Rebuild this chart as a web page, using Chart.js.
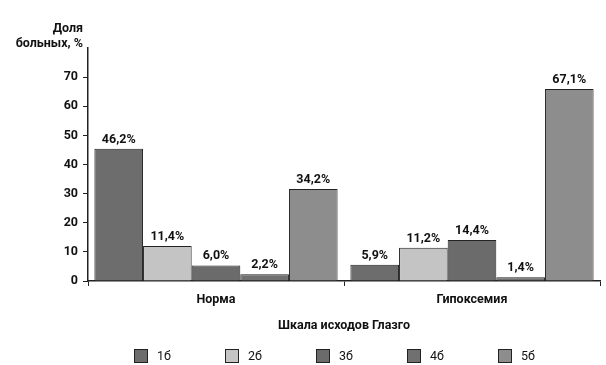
<!DOCTYPE html>
<html>
<head>
<meta charset="utf-8">
<script src="https://cdn.jsdelivr.net/npm/chart.js@4.4.1/dist/chart.umd.min.js"></script>
<style>
  html, body { margin: 0; padding: 0; background: #ffffff; }
  #wrap { width: 606px; height: 365px; }
</style>
</head>
<body>
<div id="wrap"><canvas id="c" width="606" height="365"></canvas></div>
<script>
// ---- data ----
const categories = ['Норма', 'Гипоксемия'];
const seriesNames = ['1б', '2б', '3б', '4б', '5б'];
// bar heights as drawn in the picture (%)
const s1 = [45.4, 5.6];
const s2 = [12.0, 11.4];
const s3 = [5.3, 14.1];
const s4 = [2.3, 1.3];
const s5 = [31.6, 65.9];
// printed value labels
const l1 = ['46,2%', '5,9%'];
const l2 = ['11,4%', '11,2%'];
const l3 = ['6,0%', '14,4%'];
const l4 = ['2,2%', '1,4%'];
const l5 = ['34,2%', '67,1%'];
const yTicks = [0, 10, 20, 30, 40, 50, 60, 70];
const yMax = 80;
const yTitle = ['Доля', 'больных, %'];
const xTitle = 'Шкала исходов Глазго';

const colors = ['#6d6d6d', '#c4c4c4', '#6b6b6b', '#707070', '#8d8d8d'];
const seriesValues = [s1, s2, s3, s4, s5];
const seriesLabels = [l1, l2, l3, l4, l5];

const FONT = 'Roboto, "Open Sans", sans-serif';

const overlay = {
  id: 'overlay',
  afterDatasetsDraw(chart) {
    const ctx = chart.ctx;
    ctx.save();
    // value labels
    ctx.font = 'bold 12.5px ' + FONT;
    ctx.fillStyle = '#111';
    ctx.textAlign = 'center';
    ctx.textBaseline = 'bottom';
    chart.data.datasets.forEach((ds, di) => {
      const meta = chart.getDatasetMeta(di);
      meta.data.forEach((bar, i) => {
        ctx.fillText(seriesLabels[di][i], bar.x, bar.y - 3);
      });
    });
    // y title
    ctx.textAlign = 'right';
    ctx.textBaseline = 'middle';
    const ca = chart.chartArea;
    ctx.fillText(yTitle[0], ca.left - 5, 29);
    ctx.fillText(yTitle[1], ca.left - 5, 44);
    // legend
    ctx.font = '12.5px ' + FONT;
    const startX = 134, step = 91, cy = 356, box = 14;
    chart.data.datasets.forEach((ds, di) => {
      const x = startX + di * step;
      ctx.fillStyle = ds.backgroundColor;
      ctx.fillRect(x, cy - box / 2, box, box);
      ctx.strokeStyle = '#222';
      ctx.lineWidth = 1;
      ctx.strokeRect(x + 0.5, cy - box / 2 + 0.5, box - 1, box - 1);
      ctx.fillStyle = '#111';
      ctx.textAlign = 'left';
      ctx.fillText(ds.label, x + box + 9, cy + 1);
    });
    ctx.restore();
  }
};

new Chart(document.getElementById('c'), {
  type: 'bar',
  data: {
    labels: categories,
    datasets: seriesNames.map((name, i) => ({
      label: name,
      data: seriesValues[i],
      backgroundColor: colors[i],
      borderColor: '#222',
      borderWidth: 1,
      borderSkipped: 'bottom',
      categoryPercentage: 0.95,
      barPercentage: 1.0
    }))
  },
  options: {
    responsive: false,
    animation: false,
    devicePixelRatio: 1,
    layout: { padding: { top: 48, left: 0, right: 6, bottom: 32 } },
    plugins: {
      legend: { display: false },
      tooltip: { enabled: false }
    },
    scales: {
      x: {
        grid: { display: true, drawOnChartArea: false, drawTicks: true, tickLength: 5, color: '#222', offset: true },
        border: { display: true, color: '#222', width: 1.5 },
        ticks: { color: '#111', font: { family: FONT, size: 12.5, weight: 'bold' }, padding: 6 },
        title: { display: true, text: xTitle, color: '#111', font: { family: FONT, size: 12.5, weight: 'bold' }, padding: { top: 0, bottom: 0 } },
        afterFit(scale) { scale.height = 52; }
      },
      y: {
        min: 0,
        max: yMax,
        afterBuildTicks(scale) { scale.ticks = yTicks.map(v => ({ value: v })); },
        grid: { display: true, drawOnChartArea: false, drawTicks: true, tickLength: 5, color: '#222' },
        border: { display: true, color: '#222', width: 1.5 },
        ticks: { color: '#111', font: { family: FONT, size: 12.5, weight: 'bold' }, padding: 5 },
        afterFit(scale) { scale.width = 88; }
      }
    }
  },
  plugins: [overlay]
});
</script>
</body>
</html>
